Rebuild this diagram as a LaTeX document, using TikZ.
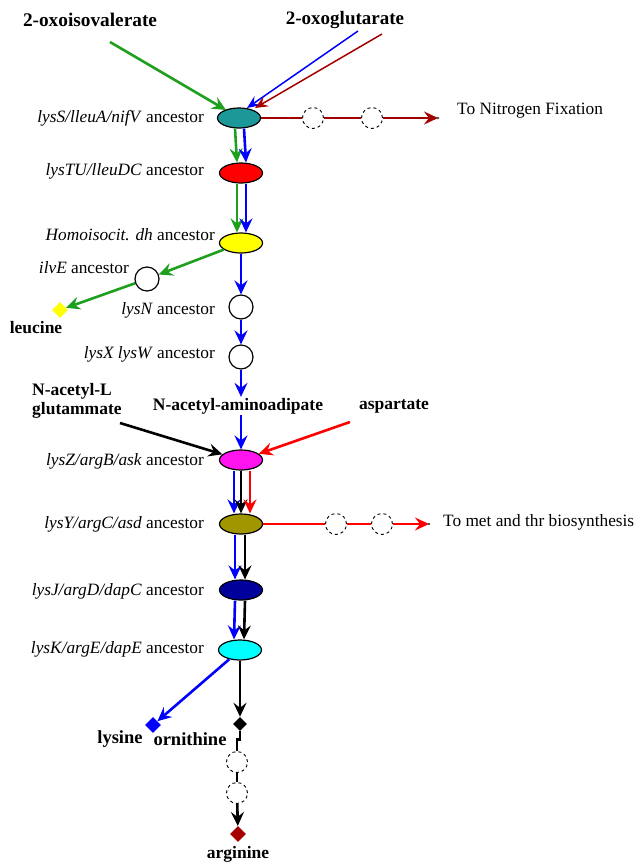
\documentclass[tikz,border=0pt]{standalone}
\usepackage{fontspec}
\setmainfont{Liberation Serif}
\usetikzlibrary{arrows.meta,shapes.geometric,calc}
\definecolor{cteal}{RGB}{28,152,152}
\definecolor{cred}{RGB}{255,0,0}
\definecolor{cyel}{RGB}{255,255,0}
\definecolor{cmag}{RGB}{255,20,240}
\definecolor{colive}{RGB}{160,150,0}
\definecolor{cdblue}{RGB}{0,0,155}
\definecolor{ccyan}{RGB}{0,255,255}
\definecolor{cgreen}{RGB}{30,160,30}
\definecolor{cdred}{RGB}{165,0,0}
\definecolor{cblue}{RGB}{0,0,255}
\begin{document}
\begin{tikzpicture}[x=1pt,y=-1pt,
  enz/.style={ellipse,draw=black,line width=1.2pt,minimum width=43pt,minimum height=20pt,inner sep=0pt},
  hole/.style={circle,draw=black,line width=1.2pt,minimum size=24pt,inner sep=0pt,fill=white},
  dhole/.style={circle,draw=black,dashed,line width=0.9pt,minimum size=21pt,inner sep=0pt,fill=white},
  met/.style={diamond,minimum size=16pt,inner sep=0pt},
  lab/.style={font=\fontsize{17.3}{20}\selectfont,anchor=east,inner sep=0pt},
  blab/.style={font=\fontsize{17.5}{19}\selectfont\bfseries,inner sep=1pt},
  tlab/.style={font=\fontsize{17.3}{20}\selectfont,anchor=west,inner sep=0pt},
  arr/.style={line width=2.6pt,-{Stealth[length=14pt,width=13pt,inset=5pt]}},
  tarr/.style={line width=1.5pt,-{Stealth[length=13pt,width=11pt,inset=5pt]}},
  ln/.style={line width=2.6pt}]
\useasboundingbox (0,0) rectangle (640,863);

% substrate labels
\node[blab,font=\fontsize{19.3}{22}\selectfont\bfseries] (oiv) at (90,20) {2-oxoisovalerate};
\node[blab,font=\fontsize{19}{22}\selectfont\bfseries] (ogl) at (345,20) {2-oxoglutarate};
\node[blab,align=left,anchor=west] (nag) at (31,401) {N-acetyl-L\\glutammate};
\node[blab] (naa) at (238,406) {N-acetyl-aminoadipate};
\node[blab] (asp) at (394,406) {aspartate};

% enzymes
\node[enz,fill=cteal] (e1) at (239,118) {};
\node[enz,fill=cred] (e2) at (241,173) {};
\node[enz,fill=cyel] (e3) at (241,243) {};
\node[hole] (ilv) at (147,279) {};
\node[hole] (lyn) at (241,307) {};
\node[hole] (lyx) at (241,357) {};
\node[enz,fill=cmag] (e4) at (241,460) {};
\node[enz,fill=colive] (e5) at (241,524) {};
\node[enz,fill=cdblue] (e6) at (241,590) {};
\node[enz,fill=ccyan] (e7) at (240,650) {};

% labels
\node[lab] (l1) at (204,118) {\textit{lysS/lleuA/nifV} ancestor};
\node[lab] (l2) at (204,171) {\textit{lysTU/lleuDC} ancestor};
\node[lab] (l3) at (215,235) {\textit{Homoisocit. dh} ancestor};
\node[lab] (l4) at (129,268) {\textit{ilvE} ancestor};
\node[lab] (l5) at (215,310) {\textit{lysN} ancestor};
\node[lab] (l6) at (215,354) {\textit{lysX lysW} ancestor};
\node[lab] (l7) at (204,461) {\textit{lysZ/argB/ask} ancestor};
\node[lab] (l8) at (204,524) {\textit{lysY/argC/asd} ancestor};
\node[lab] (l9) at (204,591) {\textit{lysJ/argD/dapC} ancestor};
\node[lab] (l10) at (204,649) {\textit{lysK/argE/dapE} ancestor};

% dashed intermediates
\node[dhole] (n1) at (313,118) {};
\node[dhole] (n2) at (372,118) {};
\node[dhole] (m1) at (336,524) {};
\node[dhole] (m2) at (382,524) {};
\node[dhole] (o1) at (237,762) {};
\node[dhole] (o2) at (237,793) {};

% end products
\node[met,fill=cyel] (leu) at (60,310) {};
\node[blab] (leut) at (36,328) {leucine};
\node[met,fill=cblue] (lys) at (153,725) {};
\node[blab,font=\fontsize{18.5}{20}\selectfont\bfseries] (lyst) at (120,739) {lysine};
\node[met,fill=black,minimum size=14pt] (orn) at (240,724) {};
\node[blab,font=\fontsize{18.5}{20}\selectfont\bfseries] (ornt) at (190,739) {ornithine};
\node[met,fill=cdred] (arg) at (238,834) {};
\node[blab] (argt) at (238,854) {arginine};

\node[tlab] (nf) at (457,111) {To Nitrogen Fixation};
\node[tlab] (mt) at (443,522) {To met and thr biosynthesis};

\coordinate (gs) at (110,42);
\coordinate (bs) at (358,31);
\coordinate (rs) at (382,34);
\coordinate (nfe) at (438,118);
\coordinate (mte) at (429,524);
\coordinate (ks) at (120,423);
\coordinate (as) at (350,422);

% top inputs
\draw[arr,cgreen] (gs) -- (226,110);
\draw[tarr,cblue] (bs) -- (247,108);
\draw[tarr,cdred] (rs) -- (255,108);

% nitrogen fixation branch
\draw[ln,cdred] (e1) -- (n1);
\draw[ln,cdred] (n1) -- (n2);
\draw[arr,cdred] (n2) -- (nfe);
\fill[black!70] (nfe) circle (1.3pt);

% e1 -> e2 -> e3
\draw[arr,cgreen] ([xshift=-4pt]e1.south) -- ([xshift=-4pt]e2.north);
\draw[arr,cblue] ([xshift=5pt]e1.south) -- ([xshift=5pt]e2.north);
\draw[arr,cgreen] ([xshift=-4pt]e2.south) -- ([xshift=-4pt]e3.north);
\draw[arr,cblue] ([xshift=5pt]e2.south) -- ([xshift=5pt]e3.north);

% leucine branch
\draw[arr,cgreen] (e3) -- (ilv);
\draw[arr,cgreen] (ilv) -- (leu);

% lysine AAA branch
\draw[arr,cblue] (e3) -- (lyn);
\draw[arr,cblue] (lyn) -- (lyx);
\draw[arr,cblue] (lyx) -- (lyx.south |- naa.north);
\draw[arr,cblue] (lyx.south |- naa.south) -- (e4);

\draw[arr,black] (ks) -- (e4);
\draw[arr,cred] (as) -- (e4);

% e4 -> e5
\draw[arr,cblue] ([xshift=-7pt]e4.south) -- ([xshift=-7pt]e5.north);
\draw[arr,black] (e4.south) -- (e5.north);
\draw[arr,cred] ([xshift=9pt]e4.south) -- ([xshift=9pt]e5.north);

% met/thr branch
\draw[ln,cred] (e5) -- (m1);
\draw[ln,cred] (m1) -- (m2);
\draw[arr,cred] (m2) -- (mte);
\fill[black!70] (mte) circle (1.3pt);

% e5 -> e6 -> e7
\draw[arr,cblue] ([xshift=-6pt]e5.south) -- ([xshift=-6pt]e6.north);
\draw[arr,black] ([xshift=4pt]e5.south) -- ([xshift=4pt]e6.north);
\draw[arr,cblue] ([xshift=-6pt]e6.south) -- ([xshift=-6pt]e7.north);
\draw[arr,black] ([xshift=4pt]e6.south) -- ([xshift=4pt]e7.north);

% final products
\draw[arr,cblue] (e7) -- (lys);
\draw[arr,black] (e7) -- (orn);
\draw[ln,black] (orn.south) -- ++(0,8) -| (o1.north);
\draw[ln,black] (o1) -- (o2);
\draw[arr,black] (o2) -- (arg);
\end{tikzpicture}
\end{document}
